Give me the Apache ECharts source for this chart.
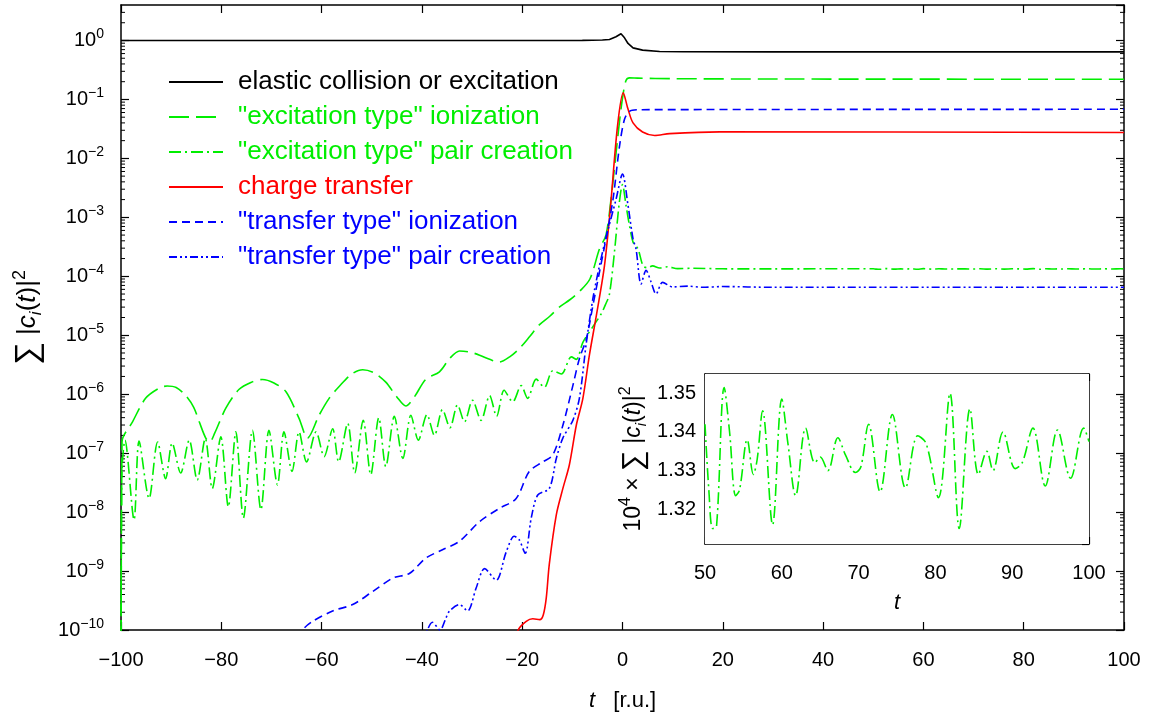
<!DOCTYPE html>
<html>
<head>
<meta charset="utf-8">
<script src="https://cdn.jsdelivr.net/npm/echarts@6/dist/echarts.min.js"></script>
<style>html,body{margin:0;padding:0;background:#fff;}#c{width:1159px;height:717px;}</style>
</head>
<body>
<div id="c"></div>
<script>
// ---------- data (t, sum |c_i(t)|^2) ----------
const elastic = [[-100,1.0],[-20,1.0],[-8,1.005],[-4,1.02],[-2.6,1.04],[-1.3,1.16],[-0.3,1.30],[0.4,1.11],[1.1,0.89],[2.1,0.75],[4,0.686],[7.4,0.65],[12,0.643],[30,0.64],[100,0.64]];

const excIon = [[-100,1e-12],[-99.8,1.55e-7],[-97.7,3.4e-7],[-95.1,8.5e-7],[-92.5,1.25e-6],[-90.8,1.38e-6],[-89,1.3e-6],[-87.1,9.5e-7],[-85.5,6e-7],[-84.4,3.4e-7],[-83.1,1.8e-7],[-82.3,1.55e-7],[-81.3,2.2e-7],[-79.1,5.8e-7],[-76.5,1.2e-6],[-74,1.6e-6],[-71.8,1.78e-6],[-69.5,1.55e-6],[-67.1,1.1e-6],[-64.5,3.9e-7],[-62.8,1.8e-7],[-60.5,4.4e-7],[-58.5,8.5e-7],[-56.5,1.35e-6],[-54,2.2e-6],[-51.8,2.6e-6],[-49.5,2.3e-6],[-47.2,1.6e-6],[-45,9e-7],[-43.2,6.3e-7],[-41.5,9e-7],[-39.2,1.8e-6],[-36.5,2.4e-6],[-34.5,4e-6],[-32.5,5.4e-6],[-30.5,5.2e-6],[-28.5,4.6e-6],[-26.5,3.9e-6],[-24.6,3.5e-6],[-22.5,4.3e-6],[-20.6,5.9e-6],[-18.5,9.5e-6],[-16.6,1.5e-5],[-14.5,2.1e-5],[-12.6,3e-5],[-10.5,4e-5],[-8.6,5.5e-5],[-6.5,9e-5],[-4.6,2.9e-4],[-3.3,5e-4],[-2.3,2e-3],[-1.3,1.2e-2],[-0.5,5e-2],[0.1,0.12],[0.7,0.21],[1.4,0.232],[3,0.23],[10,0.225],[30,0.222],[100,0.22]];

const excPairEarly = [[-100,1e-12],[-99.85,4e-8],[-99.2,1.66e-7],[-97.4,7.4e-9],[-96.4,1.6e-7],[-94.4,1.7e-8],[-92.7,1.55e-7],[-91.1,3.7e-8],[-89.8,1.48e-7],[-88.1,4.6e-8],[-86.4,1.66e-7],[-84.8,3.5e-8],[-83.2,1.78e-7],[-81.8,2.5e-8],[-80.1,1.9e-7],[-78.6,1.23e-8],[-77.1,2.3e-7],[-75.6,7.9e-9],[-73.8,2.45e-7],[-72.1,1.1e-8],[-70.5,2.45e-7],[-68.8,2.9e-8],[-67.5,2.3e-7],[-65.9,4.9e-8],[-64.5,2.3e-7],[-63.0,7.1e-8],[-61.1,2.3e-7],[-59.5,8.7e-8],[-57.8,2.6e-7],[-56.6,7.1e-8],[-54.8,3.2e-7],[-53.4,4.6e-8],[-51.7,3.6e-7],[-50.2,4.3e-8],[-48.6,4e-7],[-47.2,5.9e-8],[-45.5,4.2e-7],[-43.8,8.1e-8],[-42.2,4.4e-7],[-40.7,1.66e-7],[-39.0,4.5e-7],[-37.5,2e-7],[-35.9,5.5e-7],[-34.4,2.7e-7],[-32.9,6.6e-7],[-31.5,3.4e-7],[-29.9,7.9e-7],[-28.2,3.6e-7],[-26.5,9.5e-7],[-25.1,4.2e-7],[-23.6,1.17e-6],[-21.9,7.4e-7],[-20.2,1.4e-6],[-18.9,8.5e-7],[-17.2,1.8e-6],[-15.6,1.3e-6],[-13.9,2.5e-6],[-12.2,2.2e-6],[-10.2,4.3e-6],[-9.2,3.9e-6],[-7.9,7.6e-6],[-5.9,1.4e-5],[-4.25,2.3e-5],[-3.4,3.3e-5],[-2.6,5e-5],[-1.6,2.6e-4],[-0.7,1.6e-3],[0,3.6e-3],[0.7,1.6e-3],[1.4,7.2e-4],[2.1,3.8e-4],[3.1,2.9e-4],[4.1,1.5e-4],[4.9,1.4e-4],[6,1.5e-4],[7.4,1.38e-4],[9,1.45e-4],[11,1.35e-4],[14,1.37e-4],[20,1.34e-4],[30,1.335e-4],[40,1.34e-4]];

const chargeTransfer = [[-21.5,5e-11],[-20.8,1e-10],[-19.2,1.4e-10],[-17.9,1.55e-10],[-16.5,1.5e-10],[-15.8,1.8e-10],[-15.2,3.5e-10],[-14.6,1.3e-9],[-13.2,9e-9],[-11.9,2.5e-8],[-10.6,6.3e-8],[-9.2,3e-7],[-7.9,8.5e-7],[-6.6,4.6e-6],[-5.2,2.2e-5],[-3.6,1.5e-4],[-2.4,1.5e-3],[-1.0,3.5e-2],[0.15,0.13],[1.07,0.07],[2.1,0.04],[4.0,0.028],[6.4,0.0245],[9.4,0.0263],[19.4,0.0282],[100,0.0275]];

const trIon = [[-64.5,7e-11],[-63.8,1e-10],[-61.8,1.4e-10],[-57.8,2.1e-10],[-53.8,2.7e-10],[-49.8,4.5e-10],[-45.8,7.6e-10],[-42.5,9.1e-10],[-39.2,1.66e-9],[-35.9,2.3e-9],[-32.5,3.2e-9],[-28.5,6.9e-9],[-24.6,1.15e-8],[-21.2,1.7e-8],[-18.6,4.9e-8],[-15.9,7.1e-8],[-13.9,9.3e-8],[-11.9,2.95e-7],[-9.9,1.4e-6],[-8.6,4e-6],[-7.2,8.7e-6],[-5.9,3.2e-5],[-4.6,1.17e-4],[-3.3,4.3e-4],[-1.9,2e-3],[-0.6,1.6e-2],[0.4,4.6e-2],[1.4,0.063],[3,0.067],[100,0.068]];

const trPair = [[-40,5e-11],[-38.9,1e-10],[-37.9,1.35e-10],[-36.4,1.0e-10],[-35.2,1.6e-10],[-34.5,2.1e-10],[-32.5,2.7e-10],[-30.9,2.1e-10],[-29.2,5.1e-10],[-27.5,1.1e-9],[-25.2,7e-10],[-23.2,2.1e-9],[-21.6,3.9e-9],[-20.6,3.4e-9],[-19.4,2e-9],[-18.2,7.9e-9],[-16.9,1.95e-8],[-14.6,2.5e-8],[-13.2,8.1e-8],[-11.9,1.8e-7],[-9.9,3.6e-7],[-8.6,8.5e-7],[-7.2,7.6e-6],[-5.9,4.2e-5],[-4.6,1.5e-4],[-3.3,4.5e-4],[-1.3,2e-3],[0,5.4e-3],[1.1,1.6e-3],[2.1,4.3e-4],[2.7,2.9e-4],[3.7,7.4e-5],[4.7,1.26e-4],[5.7,8e-5],[6.7,5e-5],[8.0,7.9e-5],[10,6.6e-5],[13,6.8e-5],[16,6.5e-5],[20,6.7e-5],[30,6.5e-5],[50,6.5e-5],[100,6.5e-5]];

// inset: 1e4 * sum |c_i|^2 ("excitation type" pair creation), t = 50..100
const insetT = [50,50.5,51,51.5,52.5,53.2,54,54.5,55.5,56.3,56.8,57.5,58.8,60,60.8,61.8,63.1,64.3,65,66,67.3,68.3,69.6,70.3,71.3,72.8,74.4,76.1,77.7,78.8,80.4,81.9,83.1,84.5,85.6,86.7,87.5,88.8,90.4,91.3,92.7,94.3,95.9,97.6,99.3,100];
const insetV = [1.342,1.325,1.315,1.3155,1.3515,1.340,1.3235,1.325,1.338,1.329,1.333,1.3455,1.316,1.3485,1.337,1.3235,1.341,1.332,1.3335,1.330,1.3385,1.334,1.3295,1.331,1.342,1.3245,1.3445,1.3255,1.339,1.337,1.323,1.350,1.315,1.346,1.329,1.335,1.330,1.340,1.3305,1.332,1.341,1.326,1.3405,1.328,1.341,1.3375];

const xRange = {min: -100, max: 100, step: 20};
const yRange = {min: 1e-10, max: 4};   // log scale, one tick per decade

// ---------- build (log10 of the values onto a linear value axis) ----------
const toLog = arr => arr.map(p => [p[0], Math.log10(p[1])]);
const excPair = excPairEarly.concat(insetT.map((t, i) => [t, insetV[i] * 1e-4]));
const insetData = insetT.map((t, i) => [t, insetV[i]]);
const yMinL = Math.log10(yRange.min), yMaxL = Math.log10(yRange.max);

const minorVals = [];
for (let n = yMinL; n <= 0; n++) for (let k = 2; k <= 9; k++) { const v = Math.log10(k) + n; if (v < yMaxL) minorVals.push([xRange.min, v]); }

const FONT = '"Liberation Sans", Arial, Helvetica, sans-serif';
const GREEN = '#00ee00', RED = '#ff0000', BLUE = '#0000ff', BLACK = '#000000';

const chart = echarts.init(document.getElementById('c'), null, {renderer: 'canvas'});

function supLabel(v) {
  const n = Math.round(v);
  return '{b|10}{s|' + (n < 0 ? '\u2212' + (-n) : n) + '}';
}
const supRich = {
  b: {fontSize: 20, fontFamily: FONT, color: '#000', lineHeight: 26, verticalAlign: 'middle'},
  s: {fontSize: 14, fontFamily: FONT, color: '#000', lineHeight: 14, verticalAlign: 'top'}
};
const nameRich = (fs) => ({
  n: {fontSize: fs, fontFamily: FONT, color: '#000', lineHeight: fs + 8, verticalAlign: 'middle'},
  it: {fontSize: fs, fontFamily: FONT, fontStyle: 'italic', color: '#000', lineHeight: fs + 8, verticalAlign: 'middle'},
  sig: {fontSize: fs + 6, fontFamily: FONT, color: '#000', lineHeight: fs + 8, verticalAlign: 'middle'},
  sub: {fontSize: Math.round(fs * 0.65), fontFamily: FONT, fontStyle: 'italic', color: '#000', lineHeight: Math.round(fs * 0.65), verticalAlign: 'bottom'},
  sup: {fontSize: Math.round(fs * 0.7), fontFamily: FONT, color: '#000', lineHeight: Math.round(fs * 0.7), verticalAlign: 'top'}
});
const sumName = '{sig|\u2211}{n| |}{it|c}{sub|i}{n|(}{it|t}{n|)|}{sup|2}';

const axLine = {show: true, onZero: false, lineStyle: {color: '#000', width: 1.5}};
const tickIn = (len) => ({show: true, inside: true, length: len, lineStyle: {color: '#000', width: 1.2}});

const lineSeries = (name, data, color, type, extra) => Object.assign({
  name, type: 'line', data: toLog(data), showSymbol: false, symbol: 'none', xAxisIndex: 0, yAxisIndex: 0,
  lineStyle: {color, width: 1.6, type}, itemStyle: {color}, animation: false, clip: true
}, extra || {});

const option = {
  animation: false,
  textStyle: {fontFamily: FONT},
  grid: [
    {left: 121, right: 35, top: 5, bottom: 85},
    {left: 705, top: 374, width: 384, height: 170, show: true, backgroundColor: '#fff', borderWidth: 0, z: 5}
  ],
  legend: {
    orient: 'vertical', left: 163, top: 64, itemWidth: 54, itemHeight: 14, itemGap: 9,
    itemStyle: {opacity: 0},
    textStyle: {fontSize: 26, fontFamily: FONT, lineHeight: 26, padding: [0, 0, 0, 10]},
    data: [
      {name: 'elastic collision or excitation', textStyle: {color: BLACK}},
      {name: '"excitation type" ionization', textStyle: {color: GREEN}},
      {name: '"excitation type" pair creation', textStyle: {color: GREEN}},
      {name: 'charge transfer', textStyle: {color: RED}},
      {name: '"transfer type" ionization', textStyle: {color: BLUE}},
      {name: '"transfer type" pair creation', textStyle: {color: BLUE}}
    ],
    selectedMode: false
  },
  xAxis: [
    {gridIndex: 0, type: 'value', min: xRange.min, max: xRange.max, interval: xRange.step,
     axisLine: axLine, axisTick: tickIn(8), splitLine: {show: false},
     axisLabel: {fontSize: 20, color: '#000', margin: 20, fontFamily: FONT, formatter: v => v < 0 ? '\u2212' + (-v) : '' + v},
     name: '{it|t}{n|   [r.u.]}', nameLocation: 'middle', nameGap: 56, nameTextStyle: {rich: nameRich(22)}},
    {gridIndex: 0, type: 'value', position: 'top', min: xRange.min, max: xRange.max, interval: xRange.step,
     axisLine: axLine, axisTick: tickIn(8), axisLabel: {show: false}, splitLine: {show: false}},
    {gridIndex: 1, type: 'value', min: 50, max: 100, interval: 10,
     axisLine: axLine, axisTick: tickIn(7), splitLine: {show: false},
     axisLabel: {fontSize: 20, color: '#000', margin: 19, fontFamily: FONT},
     name: '{it|t}', nameLocation: 'middle', nameGap: 44, nameTextStyle: {rich: nameRich(22)}},
    {gridIndex: 1, type: 'value', position: 'top', min: 50, max: 100, interval: 10,
     axisLine: axLine, axisTick: tickIn(7), axisLabel: {show: false}, splitLine: {show: false}}
  ],
  yAxis: [
    {gridIndex: 0, type: 'value', min: yMinL, max: yMaxL, interval: 1,
     axisLine: axLine, axisTick: tickIn(8), splitLine: {show: false},
     axisLabel: {margin: 17, formatter: supLabel, rich: supRich, showMaxLabel: false, interval: 0},
     name: sumName, nameLocation: 'middle', nameRotate: 90, nameGap: 76, nameTextStyle: {rich: nameRich(26)}},
    {gridIndex: 0, type: 'value', position: 'right', min: yMinL, max: yMaxL, interval: 1,
     axisLine: axLine, axisTick: tickIn(8), axisLabel: {show: false}, splitLine: {show: false}},
    {gridIndex: 1, type: 'value', min: 1.311, max: 1.355, splitNumber: 4, scale: true,
     axisLine: axLine, axisTick: tickIn(7), splitLine: {show: false},
     axisLabel: {fontSize: 20, color: '#000', margin: 9, fontFamily: FONT, showMinLabel: false, showMaxLabel: false, formatter: v => v.toFixed(2)},
     name: '{n|10}{sup|4}{n| \u00d7 }' + sumName, nameLocation: 'middle', nameRotate: 90, nameGap: 56, nameTextStyle: {rich: nameRich(23)}},
    {gridIndex: 1, type: 'value', position: 'right', min: 1.311, max: 1.355, splitNumber: 4, scale: true,
     axisLine: axLine, axisTick: tickIn(7), axisLabel: {show: false}, splitLine: {show: false}}
  ],
  series: [
    lineSeries('elastic collision or excitation', elastic, BLACK, 'solid'),
    lineSeries('"excitation type" ionization', excIon, GREEN, [20, 7], {smooth: 0.3}),
    lineSeries('"excitation type" pair creation', excPair, GREEN, [12, 4, 2, 4], {smooth: 0.3}),
    lineSeries('charge transfer', chargeTransfer, RED, 'solid', {smooth: 0.3}),
    lineSeries('"transfer type" ionization', trIon, BLUE, [8, 5], {smooth: 0.3}),
    lineSeries('"transfer type" pair creation', trPair, BLUE, [8, 3, 2, 3, 2, 3], {smooth: 0.3}),
    {
      name: 'inset', type: 'line', xAxisIndex: 2, yAxisIndex: 2, data: insetData, showSymbol: false, symbol: 'none',
      smooth: 0.35, lineStyle: {color: GREEN, width: 1.6, type: [12, 4, 2, 4]}, z: 6, animation: false
    },
    {
      name: 'minorTicks', type: 'custom', xAxisIndex: 0, yAxisIndex: 0, data: minorVals, silent: true, z: 3,
      renderItem: function (params, api) {
        const y = api.coord([api.value(0), api.value(1)])[1];
        const cs = params.coordSys;
        return {type: 'group', children: [
          {type: 'line', shape: {x1: cs.x, y1: y, x2: cs.x + 4, y2: y}, style: {stroke: '#000', lineWidth: 1}},
          {type: 'line', shape: {x1: cs.x + cs.width - 4, y1: y, x2: cs.x + cs.width, y2: y}, style: {stroke: '#000', lineWidth: 1}}
        ]};
      }
    }
  ]
};
chart.setOption(option);
</script>
</body>
</html>
